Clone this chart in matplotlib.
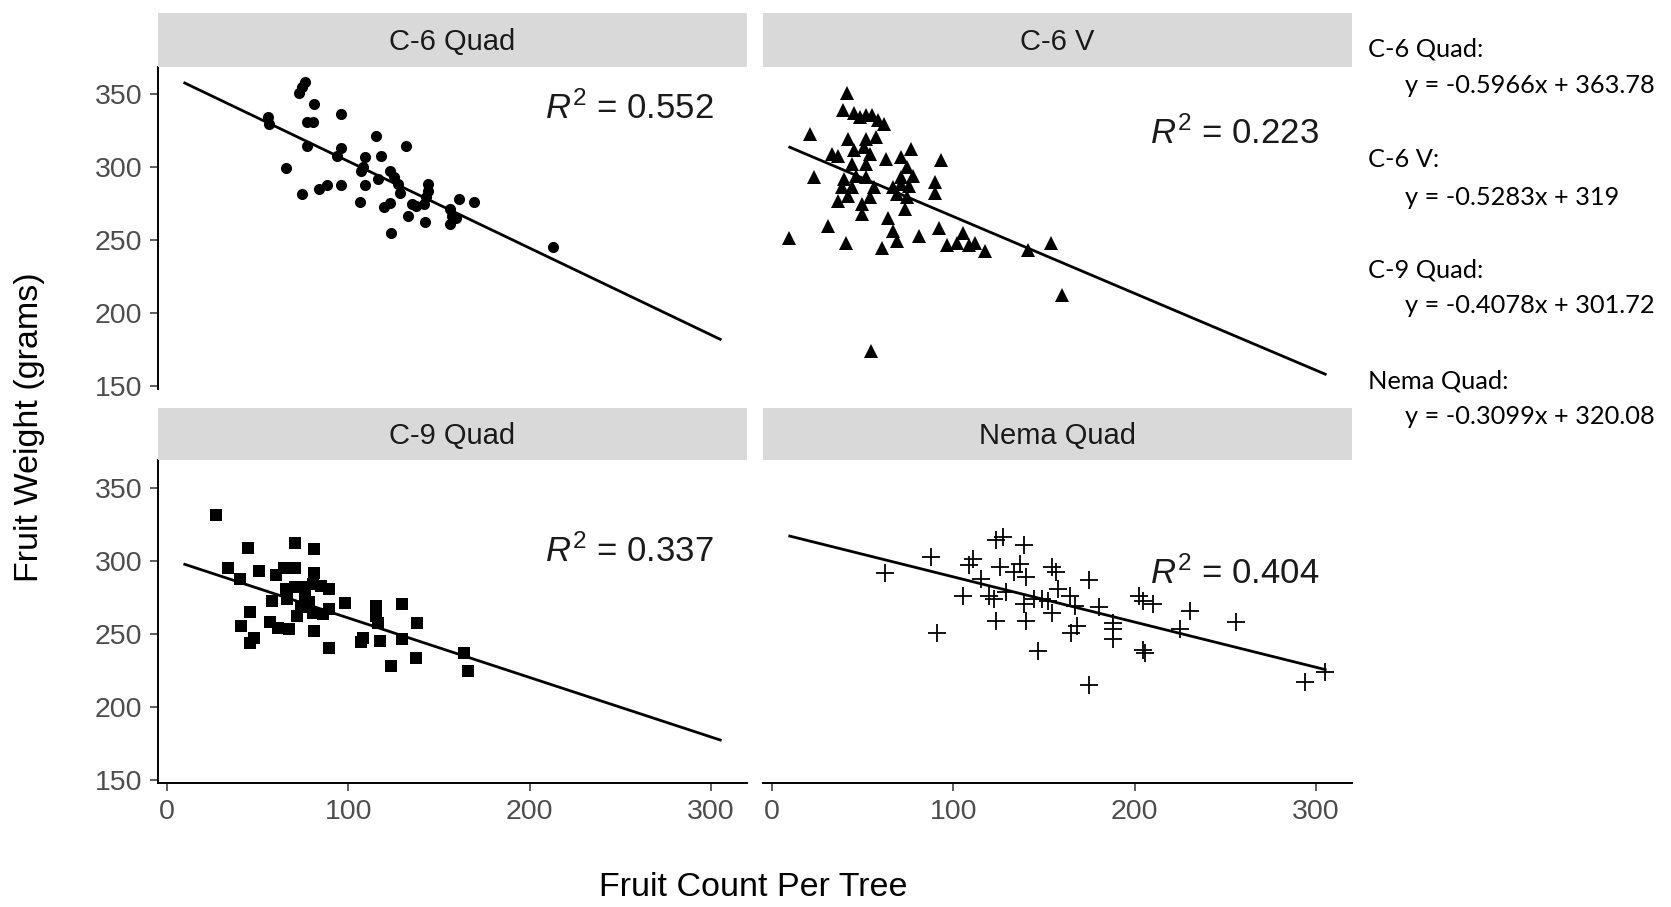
import matplotlib
matplotlib.use("Agg")
import matplotlib.pyplot as plt
import numpy as np

plt.rcParams['font.family'] = ['Liberation Sans', 'DejaVu Sans']
plt.rcParams['mathtext.fontset'] = 'custom'
plt.rcParams['mathtext.rm'] = 'Liberation Sans'
plt.rcParams['mathtext.it'] = 'Liberation Sans:italic'

# panel names and fitted lines
panels = ["C-6 Quad", "C-6 V", "C-9 Quad", "Nema Quad"]
slopes = [-0.5966, -0.5283, -0.4078, -0.3099]
intercepts = [363.78, 319, 301.72, 320.08]
r2_labels = ["0.552", "0.223", "0.337", "0.404"]
eq_labels = ["y = -0.5966x + 363.78", "y = -0.5283x + 319",
             "y = -0.4078x + 301.72", "y = -0.3099x + 320.08"]

# C-6 Quad (circles)
c6q_x = [76.4, 74.8, 73.1, 81.4, 96.0, 55.6, 56.3, 77.5, 80.7, 115.6, 132.0, 77.5,
         96.0, 93.8, 109.1, 118.3, 65.5, 108.0, 106.9, 123.3, 125.5, 116.7, 127.6,
         128.7, 109.1, 96.0, 88.4, 84.0, 74.6, 144.0, 144.0, 142.9, 141.8, 135.3,
         137.5, 161.0, 169.1, 106.5, 120.0, 123.3, 133.1, 142.3, 156.0, 157.1,
         156.0, 159.3, 123.7, 212.7]
c6q_y = [358.5, 354.8, 350.7, 343.1, 336.8, 334.5, 329.9, 331.1, 331.1, 321.2, 314.5,
         314.5, 313.3, 308.0, 306.9, 308.0, 299.5, 300.4, 297.6, 297.6, 293.0, 291.9,
         288.4, 282.6, 287.7, 287.9, 287.9, 284.9, 281.5, 288.4, 283.8, 279.2, 274.6,
         274.6, 273.4, 278.0, 276.4, 276.2, 273.0, 275.7, 266.5, 262.6, 271.1, 266.5,
         260.7, 265.3, 254.5, 245.0]

# C-6 V (triangles)
c6v_x = [41.4, 39.2, 45.3, 48.6, 51.9, 55.2, 58.4, 61.7, 21.4, 42.1, 51.9, 57.3,
         77.0, 93.3, 33.4, 36.6, 45.3, 50.8, 54.1, 62.8, 71.5, 44.3, 51.9, 74.8,
         23.5, 39.9, 46.4, 51.9, 71.5, 78.0, 90.0, 38.8, 44.3, 56.2, 67.1, 71.5,
         75.9, 90.0, 36.6, 42.1, 49.7, 54.1, 69.3, 74.8, 73.7, 49.7, 63.9, 31.2,
         9.4, 41.0, 60.6, 67.1, 69.3, 81.3, 92.2, 105.3, 96.6, 102.0, 108.6, 111.8,
         117.3, 141.3, 153.9, 159.8, 54.8]
c6v_y = [350.7, 339.2, 336.9, 334.5, 335.7, 335.7, 332.2, 329.9, 323.0, 319.5, 319.5,
         320.7, 312.6, 304.6, 309.2, 308.0, 311.5, 313.8, 309.2, 305.7, 306.9, 302.2,
         302.2, 299.9, 293.0, 291.9, 294.2, 293.0, 293.0, 294.2, 289.6, 286.1, 286.1,
         286.1, 286.1, 288.4, 287.3, 282.6, 276.9, 280.3, 274.6, 279.2, 281.5, 279.2,
         271.1, 267.6, 265.3, 259.6, 251.5, 248.0, 244.6, 256.1, 249.2, 252.6, 258.4,
         255.0, 246.9, 248.0, 246.9, 248.0, 242.3, 243.4, 248.0, 212.0, 173.5]

# C-9 Quad (squares)
c9q_x = [27.3, 44.7, 70.9, 81.4, 33.8, 50.8, 60.0, 64.4, 70.9, 81.4, 40.4, 65.5,
         70.9, 75.3, 80.7, 85.1, 89.5, 57.8, 66.5, 76.4, 78.5, 74.2, 80.7, 86.2,
         89.5, 98.2, 115.6, 115.6, 129.8, 45.8, 41.0, 56.7, 61.1, 67.6, 72.0, 81.4,
         48.0, 45.8, 89.5, 108.0, 106.9, 117.4, 129.8, 116.7, 138.1, 137.5, 123.7,
         163.6, 166.3]
c9q_y = [331.5, 308.9, 311.9, 307.8, 295.1, 292.8, 290.5, 295.1, 295.1, 291.6, 287.3,
         280.8, 282.0, 282.0, 284.3, 283.1, 280.8, 272.7, 273.9, 276.2, 271.6, 268.1,
         264.6, 263.5, 267.0, 271.1, 269.3, 262.3, 270.4, 265.1, 255.4, 258.2, 254.3,
         253.1, 262.3, 252.0, 247.3, 243.9, 240.0, 247.3, 244.3, 245.0, 246.2, 257.7,
         257.3, 233.5, 228.2, 237.0, 224.3]

# Nema Quad (plus)
nema_x = [62.3, 87.9, 91.1, 111.2, 108.6, 105.3, 115.1, 123.4, 127.7, 126.0, 139.1,
          136.9, 133.6, 140.2, 119.5, 122.7, 123.8, 129.3, 139.1, 140.2, 146.7, 154.3,
          156.5, 154.3, 157.6, 164.2, 144.5, 148.9, 152.2, 175.1, 167.4, 168.5, 165.2,
          175.1, 180.5, 188.1, 188.1, 188.1, 202.3, 204.5, 209.9, 204.5, 205.6, 225.2,
          230.6, 255.7, 293.9, 304.8]
nema_y = [291.9, 302.7, 250.8, 301.6, 296.9, 276.2, 287.7, 314.2, 316.5, 295.8, 310.8,
          298.1, 292.3, 288.9, 276.2, 273.9, 258.9, 278.5, 270.4, 258.9, 238.1, 295.8,
          292.3, 264.6, 280.8, 276.2, 273.9, 273.9, 272.7, 286.6, 269.3, 255.4, 250.8,
          215.0, 268.1, 257.7, 253.1, 246.2, 276.2, 272.7, 270.4, 239.3, 237.0, 253.1,
          265.8, 258.2, 217.4, 223.6]

xs = [c6q_x, c6v_x, c9q_x, nema_x]
ys = [c6q_y, c6v_y, c9q_y, nema_y]
markers = ['o', '^', 's', '+']
msizes = [8, 9.5, 8, 13]
line_x = [10, 305]

W, H = 1671, 907
fig = plt.figure(figsize=(W / 100, H / 100), dpi=100)

# panel boxes in pixels (left, right, top, bottom)
lefts = [158, 763]
rights = [747, 1352]
tops = [67, 460.4]
bottoms = [388.7, 783]
strip_tops = [12.8, 408.2]

axis_col = '#333333'
tick_col = '#4D4D4D'

for i, name in enumerate(panels):
    row, col = divmod(i, 2)
    l, r = lefts[col], rights[col]
    t, b = tops[row], bottoms[row]
    ax = fig.add_axes([l / W, 1 - b / H, (r - l) / W, (b - t) / H])
    sax = fig.add_axes([l / W, 1 - t / H, (r - l) / W, (t - strip_tops[row]) / H])
    sax.set_facecolor('#D9D9D9')
    sax.set_xticks([])
    sax.set_yticks([])
    for s in sax.spines.values():
        s.set_visible(False)
    sax.text(0.5, 0.47, name, ha='center', va='center', fontsize=21,
             color='#1A1A1A', transform=sax.transAxes)

    if markers[i] == '+':
        ax.plot(xs[i], ys[i], ls='none', marker='+', ms=msizes[i], mew=1.3,
                color='black')
    else:
        ax.plot(xs[i], ys[i], ls='none', marker=markers[i], ms=msizes[i],
                color='black', mew=0)
    ly = [slopes[i] * x + intercepts[i] for x in line_x]
    ax.plot(line_x, ly, color='black', lw=2.0)

    r2_pos = [(255, 340), (255, 323), (255, 306.5), (255, 291.5)]
    ax.text(r2_pos[i][0], r2_pos[i][1], r'$R^2$ = ' + r2_labels[i],
            ha='center', va='center', fontsize=25, color='#1A1A1A')

    ax.set_xlim(-4.75, 319.75)
    ax.set_ylim(147.9, 368.8)
    ax.set_xticks([0, 100, 200, 300])
    ax.set_yticks([150, 200, 250, 300, 350])
    ax.tick_params(colors=axis_col, labelcolor=tick_col, labelsize=20.5,
                   length=5.5, width=1.1)
    ax.tick_params(axis='y', pad=6)
    ax.tick_params(axis='x', pad=6)
    ax.spines['top'].set_visible(False)
    ax.spines['right'].set_visible(False)
    for s in ['left', 'bottom']:
        ax.spines[s].set_linewidth(1.4)
        ax.spines[s].set_color('black')
    if col == 1:
        ax.spines['left'].set_visible(False)
        ax.tick_params(axis='y', left=False, labelleft=False)
    if row == 0:
        ax.spines['bottom'].set_visible(False)
        ax.tick_params(axis='x', bottom=False, labelbottom=False)

fig.text(29.8 / W, 1 - 427 / H, 'Fruit Weight (grams)', rotation=90,
         ha='center', va='center', fontsize=24.5, color='black')
fig.text(753.5 / W, 1 - 887.7 / H, 'Fruit Count Per Tree',
         ha='center', va='center', fontsize=24.5, color='black')

# equation notes on the right
name_y = [49, 159.9, 269.6, 380.5]
eq_y = [85.5, 197.5, 305.5, 416]
for i, name in enumerate(panels):
    fig.text(1368 / W, 1 - name_y[i] / H, name + ':', ha='left', va='center',
             fontsize=18.3, family='Lato', color='black')
    fig.text(1405 / W, 1 - eq_y[i] / H, eq_labels[i], ha='left', va='center',
             fontsize=18.3, family='Lato', color='black')

fig.savefig('out.png', dpi=100)
